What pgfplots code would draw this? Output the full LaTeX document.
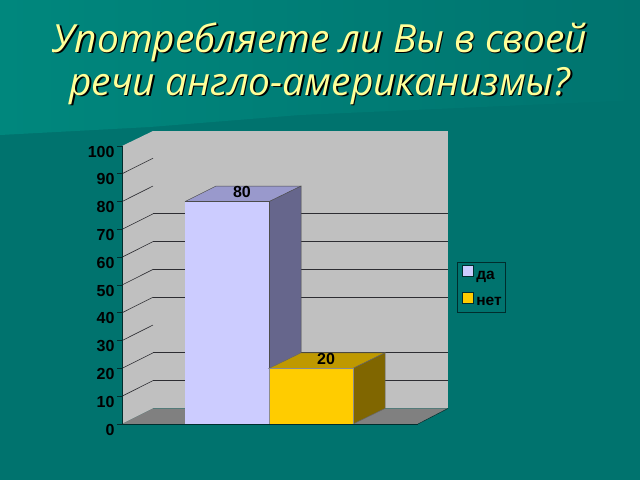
\documentclass[border=0pt]{standalone}
\usepackage{fontspec}
\setmainfont{Liberation Sans}
\newfontfamily\titlefont{Open Sans}
\usepackage{pgfplots}
\pgfplotsset{compat=1.18}
\definecolor{bgteal}{RGB}{0,115,110}
\definecolor{bandl}{RGB}{0,135,125}
\definecolor{bandr}{RGB}{0,116,111}
\definecolor{titlecol}{RGB}{255,255,153}
\definecolor{wall}{RGB}{192,192,192}
\definecolor{floorc}{RGB}{128,128,128}
\definecolor{lineteal}{RGB}{0,45,45}
\definecolor{gridc}{RGB}{45,45,50}
\definecolor{dafront}{RGB}{204,204,255}
\definecolor{datop}{RGB}{153,153,204}
\definecolor{daside}{RGB}{102,102,140}
\definecolor{netfront}{RGB}{255,204,0}
\definecolor{nettop}{RGB}{191,153,0}
\definecolor{netside}{RGB}{128,102,0}
\newcommand{\titleline}[1]{\titlefont\fontsize{38.8}{44}\selectfont\itshape #1}
\begin{document}
\begin{tikzpicture}
% background, coordinates are pixels from the top left
\begin{axis}[
    at={(0pt,0pt)},anchor=south west,
    scale only axis,width=640pt,height=480pt,
    xmin=0,xmax=640,ymin=0,ymax=480,y dir=reverse,
    hide axis,
]
\addplot[fill=bgteal,draw=none] coordinates {(0,0)(640,0)(640,480)(0,480)} --cycle;
\addplot[left color=bandl,right color=bandr,draw=none] coordinates {(0,0)(640,0)(640,100)(300,115)(150,127)(0,135)} --cycle;
\node[text=black] at (axis cs:321.5,43.5) {\titleline{Употребляете ли Вы в своей}};
\node[text=titlecol] at (axis cs:320,42) {\titleline{Употребляете ли Вы в своей}};
\node[text=black] at (axis cs:321.5,87.5) {\titleline{речи англо-американизмы?}};
\node[text=titlecol] at (axis cs:320,86) {\titleline{речи англо-американизмы?}};
\end{axis}
% chart: y is the value, x is pixels right of the y axis
\begin{axis}[
    at={(122pt,56pt)},anchor=south west,
    scale only axis,width=296pt,height=278pt,
    xmin=0,xmax=296,ymin=0,ymax=100,
    clip=false,axis on top,
    axis x line=bottom,axis y line=left,
    axis line style={lineteal,line width=0.9pt,-},
    xtick=\empty,
    ytick={0,10,...,100},
    tick align=outside,
    major tick length=5pt,
    tick style={lineteal,line width=0.9pt},
    yticklabel style={font=\fontsize{16}{16}\selectfont\bfseries,text=black,yshift=-5.5pt,xshift=1pt},
    /pgf/number format/assume math mode=true,
    legend style={at={(335pt,162pt)},anchor=north west,draw=lineteal,fill=none,
        line width=0.7pt,font=\fontsize{15.5}{15.5}\selectfont\bfseries,
        inner xsep=2pt,inner ysep=3pt,row sep=8.5pt,
        nodes={yshift=-5pt},
        legend cell align=left},
    legend image code/.code={\path[draw=none,fill=none] (0pt,0pt) -- (15pt,0pt);\draw[#1,draw=lineteal,line width=0.5pt] (3pt,-5.5pt) rectangle (13.5pt,5.5pt);},
]
% walls and floor
\addplot[fill=wall,draw=none,forget plot] coordinates {(31,5.6)(326,5.6)(326,105.4)(31,105.4)} --cycle;
\addplot[fill=wall,draw=none,forget plot] coordinates {(0,0)(31,5.6)(31,105.4)(0,100)} --cycle;
\addplot[fill=floorc,draw=none,forget plot] coordinates {(0,0)(31,5.6)(326,5.6)(296,0)} --cycle;
\addplot[lineteal,line width=0.5pt,forget plot] coordinates {(326,5.6)(296,0)};
% grid on the side wall
\addplot[gridc,line width=0.6pt,forget plot] coordinates {(0,10)(31,15.6)};
\addplot[gridc,line width=0.6pt,forget plot] coordinates {(0,20)(31,25.6)};
\addplot[gridc,line width=0.6pt,forget plot] coordinates {(0,30)(31,35.6)};
\addplot[gridc,line width=0.6pt,forget plot] coordinates {(0,40)(31,45.6)};
\addplot[gridc,line width=0.6pt,forget plot] coordinates {(0,50)(31,55.6)};
\addplot[gridc,line width=0.6pt,forget plot] coordinates {(0,60)(31,65.6)};
\addplot[gridc,line width=0.6pt,forget plot] coordinates {(0,70)(31,75.6)};
\addplot[gridc,line width=0.6pt,forget plot] coordinates {(0,80)(31,85.6)};
\addplot[gridc,line width=0.6pt,forget plot] coordinates {(0,90)(31,95.6)};
% grid on the back wall
\addplot[gridc,line width=0.7pt,forget plot] coordinates {(31,15.6)(326,15.6)};
\addplot[gridc,line width=0.7pt,forget plot] coordinates {(31,25.6)(326,25.6)};
\addplot[gridc,line width=0.7pt,forget plot] coordinates {(31,45.6)(326,45.6)};
\addplot[gridc,line width=0.7pt,forget plot] coordinates {(31,55.6)(326,55.6)};
\addplot[gridc,line width=0.7pt,forget plot] coordinates {(31,65.6)(326,65.6)};
\addplot[gridc,line width=0.7pt,forget plot] coordinates {(31,75.6)(326,75.6)};
% bar da = 80
\addplot[fill=datop,draw=none,forget plot] coordinates {(63,80)(94,85.6)(179,85.6)(147,80)} --cycle;
\addplot[fill=daside,draw=black!70,line width=0.5pt,forget plot] coordinates {(147,0)(147,80)(179,85.6)(179,5.6)} --cycle;
\addplot[fill=dafront,draw=none] coordinates {(63,0)(147,0)(147,80)(63,80)} --cycle;
\addlegendentry{да}
\addplot[black!70,line width=0.5pt,forget plot] coordinates {(63,80)(94,85.6)(179,85.6)};
\addplot[black!70,line width=0.5pt,forget plot] coordinates {(63,80)(147,80)(147,20)};
% bar net = 20
\addplot[fill=nettop,draw=black!60,line width=0.5pt,forget plot] coordinates {(147,20)(179,25.6)(263,25.6)(231,20)} --cycle;
\addplot[fill=netside,draw=black!60,line width=0.5pt,forget plot] coordinates {(231,0)(231,20)(263,25.6)(263,5.6)} --cycle;
\addplot[fill=netfront,draw=black!45,line width=0.5pt] coordinates {(147,0)(231,0)(231,20)(147,20)} --cycle;
\addlegendentry{нет}
% value labels
\node[font=\fontsize{16}{16}\selectfont\bfseries,text=black] at (axis cs:120,83.5) {80};
\node[font=\fontsize{16}{16}\selectfont\bfseries,text=black] at (axis cs:204,23.4) {20};
\end{axis}
\end{tikzpicture}
\end{document}
